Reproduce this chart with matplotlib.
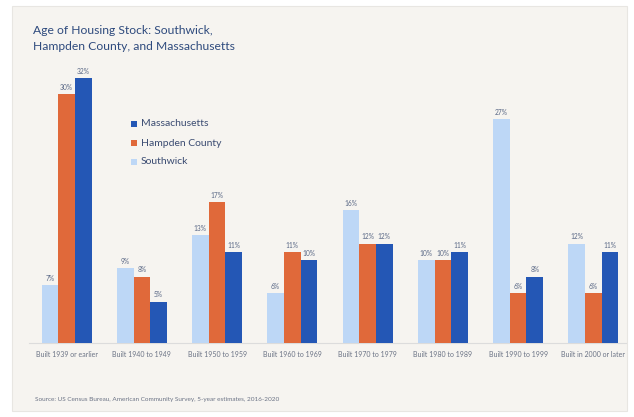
import matplotlib
matplotlib.use("Agg")
import matplotlib.pyplot as plt
from matplotlib.patches import Rectangle
import numpy as np

plt.rcParams['font.family'] = ['Lato', 'DejaVu Sans']

# data (percent of housing units)
categories = ["Built 1939 or earlier", "Built 1940 to 1949", "Built 1950 to 1959",
              "Built 1960 to 1969", "Built 1970 to 1979", "Built 1980 to 1989",
              "Built 1990 to 1999", "Built in 2000 or later"]
southwick = [7, 9, 13, 6, 16, 10, 27, 12]
hampden = [30, 8, 17, 11, 12, 10, 6, 6]
massachusetts = [32, 5, 11, 10, 12, 11, 8, 11]

c_south = "#bdd7f6"
c_hamp = "#e0693a"
c_mass = "#2457b5"
panel = "#f6f4f0"
title_col = "#2e4a7d"
label_col = "#5a6886"

fig = plt.figure(figsize=(6.34, 4.17), dpi=100)
fig.patch.set_facecolor("white")
fig.patches.append(Rectangle((12/634, 6/417), 615/634, 405/417, transform=fig.transFigure,
                             facecolor=panel, edgecolor="#e8e6e2", linewidth=0.8, zorder=-10))

ax = fig.add_axes([29/634, 74/417, 602/634, 290/417])
ax.set_facecolor("none")
ax.set_zorder(1)

x = np.arange(len(categories))
w = 0.222
series = [(southwick, c_south, "Southwick", -w),
          (hampden, c_hamp, "Hampden County", 0),
          (massachusetts, c_mass, "Massachusetts", w)]
for vals, col, name, off in series:
    bars = ax.bar(x + off, vals, width=w, color=col, label=name, zorder=2)
    for b, v in zip(bars, vals):
        ax.text(b.get_x() + b.get_width()/2, v + 0.4, f"{v}%", ha="center", va="bottom",
                fontsize=4.8, color=label_col)

ax.set_xlim(-0.5, 7.5)
ax.set_ylim(0, 35)
ax.set_yticks([])
ax.set_xticks(x)
ax.set_xticklabels(categories, fontsize=5, color="#6b7385")
ax.tick_params(axis="x", length=0, pad=6)
for s in ax.spines.values():
    s.set_visible(False)
# baseline, stopping at the panel edge
ax.plot([-0.5, 7.43], [0, 0], color="#dcdcdc", linewidth=0.8, zorder=1, clip_on=False)

# legend drawn as squares + text, Massachusetts on top
leg_items = [("Massachusetts", c_mass), ("Hampden County", c_hamp), ("Southwick", c_south)]
for i, (name, col) in enumerate(leg_items):
    yy = 1 - (124 + i * 19) / 417
    fig.patches.append(Rectangle((131/634, yy - 3/417), 6/634, 6/417, transform=fig.transFigure,
                                 facecolor=col, edgecolor="none", zorder=2))
    fig.text(141/634, yy, name, fontsize=7.5, color="#3b4c72", va="center", ha="left", zorder=2)

fig.text(33/634, 1 - 30/417, "Age of Housing Stock: Southwick,", fontsize=8.7,
         color=title_col, va="center", ha="left")
fig.text(33/634, 1 - 47/417, "Hampden County, and Massachusetts", fontsize=8.7,
         color=title_col, va="center", ha="left")
fig.text(35/634, 1 - 400/417, "Source: US Census Bureau, American Community Survey, 5-year estimates, 2016-2020",
         fontsize=4.6, color="#6b7385", va="center", ha="left")

fig.savefig("out.png", dpi=100, facecolor=fig.get_facecolor())
